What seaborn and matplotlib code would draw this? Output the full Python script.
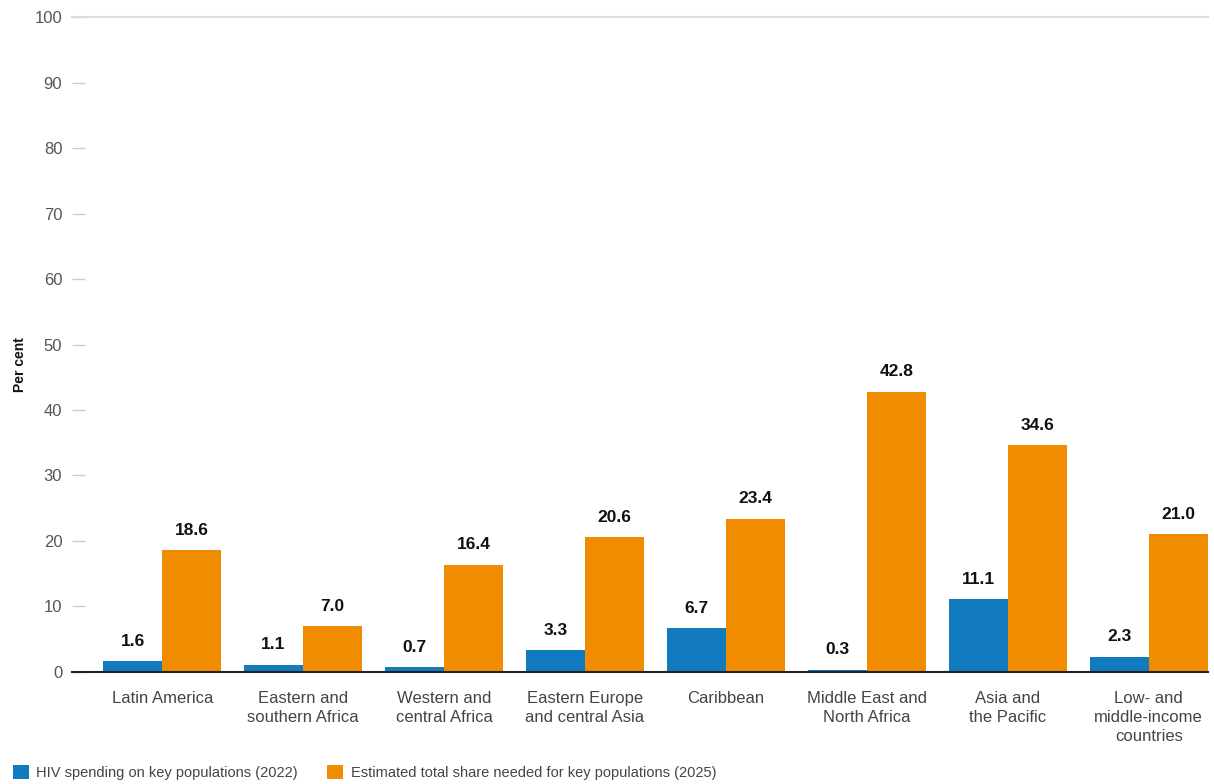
import matplotlib

matplotlib.use("Agg")

import matplotlib.pyplot as plt
import pandas as pd
import seaborn as sns

CATEGORIES = [
    "Latin America",
    "Eastern and\nsouthern Africa",
    "Western and\ncentral Africa",
    "Eastern Europe\nand central Asia",
    "Caribbean",
    "Middle East and\nNorth Africa",
    "Asia and\nthe Pacific",
    "Low- and\nmiddle-income\ncountries",
]
SPENDING_2022 = [1.6, 1.1, 0.7, 3.3, 6.7, 0.3, 11.1, 2.3]
NEEDED_2025 = [18.6, 7.0, 16.4, 20.6, 23.4, 42.8, 34.6, 21.0]
SERIES = [
    "HIV spending on key populations (2022)",
    "Estimated total share needed for key populations (2025)",
]
Y_TICKS = list(range(0, 101, 10))

BLUE = "#127BC0"
ORANGE = "#F18C00"

df = pd.DataFrame(
    {
        "region": CATEGORIES * 2,
        "value": SPENDING_2022 + NEEDED_2025,
        "series": [SERIES[0]] * len(CATEGORIES) + [SERIES[1]] * len(CATEGORIES),
    }
)

sns.set_theme(style="white")
plt.rcParams["font.family"] = ["Liberation Sans", "DejaVu Sans"]

fig = plt.figure(figsize=(12.14, 7.84), dpi=100)
ax = fig.add_axes([0.0593, 0.143, 0.9357, 0.835])

sns.barplot(
    data=df, x="region", y="value", hue="series", order=CATEGORIES, hue_order=SERIES,
    palette=[BLUE, ORANGE], width=0.84, gap=0, saturation=1, linewidth=0, ax=ax, legend=True,
)

for cont in ax.containers:
    ax.bar_label(cont, fmt="%.1f", padding=9, fontsize=12.5, fontweight="bold", color="#111111")

ax.set_ylim(0, 100)
ax.set_xlim(-0.64, 7.42)
ax.set_yticks(Y_TICKS)
ax.set_xlabel("")
ax.set_ylabel("")
fig.text(20 / 1214, 0.535, "Per cent", rotation=90, ha="center", va="center",
         fontsize=10, fontweight="bold", color="#111111")

for side in ["left", "right"]:
    ax.spines[side].set_visible(False)
ax.spines["top"].set_color("#dddddd")
ax.spines["top"].set_linewidth(1.5)
ax.spines["bottom"].set_color("#222222")
ax.spines["bottom"].set_linewidth(1.5)

ax.tick_params(axis="y", left=True, direction="in", length=9, width=1, color="#cccccc",
               labelsize=12, labelcolor="#555555", pad=7)
ax.tick_params(axis="x", length=0, labelsize=12, labelcolor="#444444", pad=14)
for lab in ax.get_xticklabels():
    lab.set_linespacing(1.3)

handles, labels = ax.get_legend_handles_labels()
ax.legend_.remove()
fig.legend(
    handles, labels, loc="lower left", bbox_to_anchor=(0.0, -0.012), ncol=2, frameon=False,
    fontsize=10.5, handlelength=1.1, handleheight=1.1, handletextpad=0.5, columnspacing=2.0,
    labelcolor="#444444",
)

fig.savefig("out.png", dpi=100, facecolor="white")
